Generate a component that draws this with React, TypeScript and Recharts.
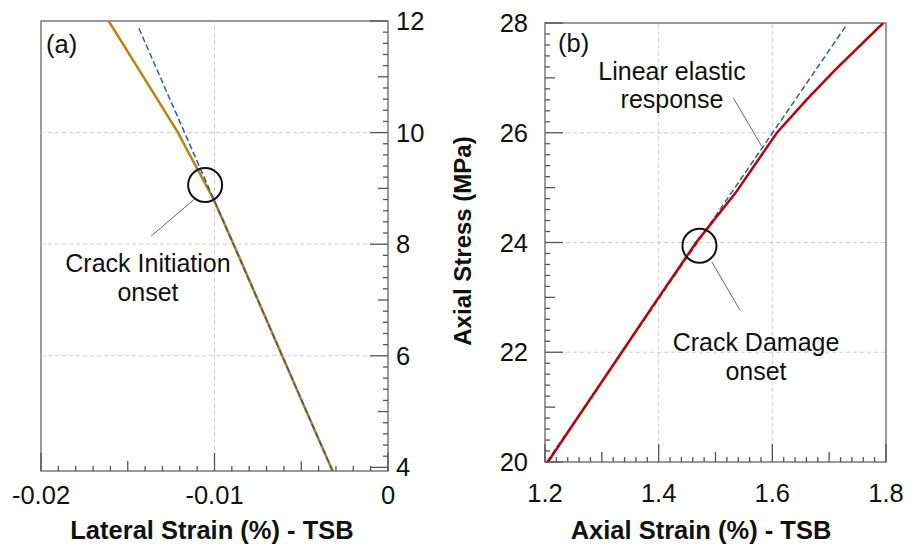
import React from 'react';
import {
  LineChart,
  Line,
  XAxis,
  YAxis,
  ReferenceLine,
  ReferenceArea,
  ReferenceDot,
} from 'recharts';

// ---------------- data ----------------
// Panel (a): lateral strain vs axial stress
const lateralStrainTSB = [-0.0032, -0.0047, -0.0061, -0.0075, -0.0089, -0.01005, -0.0109, -0.0116, -0.0121, -0.0145, -0.0161];
const lateralStress = [3.94, 5.0, 6.0, 7.0, 8.0, 8.8, 9.3, 9.7, 10.0, 11.2, 12.0];
const lateralElasticStrain = [-0.0032, -0.0144];
const lateralElasticStress = [3.94, 11.9];

// Panel (b): axial strain vs axial stress
const axialStrainTSB = [1.205, 1.335, 1.4, 1.466, 1.535, 1.608, 1.66, 1.711, 1.795];
const axialStress = [20.0, 22.0, 23.0, 24.0, 24.9, 26.0, 26.6, 27.15, 28.0];
const axialElasticStrain = [1.203, 1.731];
const axialElasticStress = [20.0, 27.97];

// tick labels
const lateralTickLabels = [-0.02, -0.01, 0];
const leftStressTickLabels = [4, 6, 8, 10, 12];
const axialTickLabels = [1.2, 1.4, 1.6, 1.8];
const rightStressTickLabels = [20, 22, 24, 26, 28];

// gridlines
const leftGridX = [-0.01];
const leftGridY = [6, 8, 10];
const rightGridX = [1.4, 1.6];
const rightGridY = [22, 24, 26];

// ---------------- helpers ----------------
const FONT = "'Liberation Sans', Arial, Helvetica, sans-serif";
const TICK_COLOR = '#555';
const BOX_COLOR = '#7a7a7a';
const GRID_COLOR = '#cfcfcf';

const zip = (xs: number[], ys: number[]) => xs.map((x, i) => ({ x, y: ys[i] }));

const goldData = zip(lateralStrainTSB, lateralStress);
const blueLeftData = zip(lateralElasticStrain, lateralElasticStress);
const redData = zip(axialStrainTSB, axialStress);
const blueRightData = zip(axialElasticStrain, axialElasticStress);

const makeTicks = (start: number, end: number, step: number) => {
  const n = Math.round((end - start) / step);
  return Array.from({ length: n + 1 }, (_, i) => +(start + i * step).toFixed(5));
};

const labelFor = (labels: number[], v: number) => {
  const m = labels.find((l) => Math.abs(l - v) < 1e-9);
  return m === undefined ? null : String(m);
};

const tickLen = (v: number, step: number) => {
  const k = Math.round(v / step);
  if (k % 10 === 0) return 18;
  if (k % 5 === 0) return 10;
  return 5;
};

const TICK_FONT = 25.5;

const makeBottomTick = (step: number, labels: number[], dy: number) => (props: any) => {
  const { x, y, payload } = props;
  const len = tickLen(payload.value, step);
  const lab = labelFor(labels, payload.value);
  return (
    <g>
      <line x1={x} x2={x} y1={y} y2={y - len} stroke={TICK_COLOR} strokeWidth={1.3} />
      {lab !== null && (
        <text x={x} y={y + dy} textAnchor="middle" dominantBaseline="central" fontSize={TICK_FONT} fontFamily={FONT} fill="#111">
          {lab}
        </text>
      )}
    </g>
  );
};

const makeRightTick = (step: number, labels: number[]) => (props: any) => {
  const { x, y, payload } = props;
  const len = tickLen(payload.value, step);
  const lab = labelFor(labels, payload.value);
  return (
    <g>
      <line x1={x} x2={x - len} y1={y} y2={y} stroke={TICK_COLOR} strokeWidth={1.3} />
      {lab !== null && (
        <text x={x + 8} y={y} textAnchor="start" dominantBaseline="central" fontSize={TICK_FONT} fontFamily={FONT} fill="#111">
          {lab}
        </text>
      )}
    </g>
  );
};

const makeLeftTick = (step: number, labels: number[]) => (props: any) => {
  const { x, y, payload } = props;
  const len = tickLen(payload.value, step);
  const lab = labelFor(labels, payload.value);
  return (
    <g>
      <line x1={x} x2={x + len} y1={y} y2={y} stroke={TICK_COLOR} strokeWidth={1.3} />
      {lab !== null && (
        <text x={x - 17} y={y} textAnchor="end" dominantBaseline="central" fontSize={TICK_FONT} fontFamily={FONT} fill="#111">
          {lab}
        </text>
      )}
    </g>
  );
};

const LEFT_X_DOMAIN: [number, number] = [-0.02, 0];
const LEFT_Y_DOMAIN: [number, number] = [3.935, 12];
const RIGHT_X_DOMAIN: [number, number] = [1.2, 1.8];
const RIGHT_Y_DOMAIN: [number, number] = [20, 28];

const leftXTicks = makeTicks(-0.02, 0, 0.001);
const leftYTicks = makeTicks(4, 12, 0.2);
const rightXTicks = makeTicks(1.2, 1.8, 0.02);
const rightYTicks = makeTicks(20, 28, 0.2);

const textStyle = { fontFamily: FONT, fill: '#111' } as const;
const ANN_FONT = 25;

export default function App() {
  return (
    <div style={{ position: 'absolute', left: 0, top: 0, width: 915, height: 544, background: '#fff' }}>
      {/* Panel (a) */}
      <div style={{ position: 'absolute', left: 0, top: 0 }}>
        <LineChart width={460} height={544} margin={{ top: 21, right: 0, bottom: 0, left: 41 }}>
          <XAxis
            type="number"
            dataKey="x"
            domain={LEFT_X_DOMAIN}
            allowDataOverflow
            ticks={leftXTicks}
            interval={0}
            height={73}
            tickSize={0}
            tickMargin={0}
            axisLine={false}
            tickLine={false}
            tick={makeBottomTick(0.001, lateralTickLabels, 24)}
          />
          <YAxis
            type="number"
            dataKey="y"
            orientation="right"
            domain={LEFT_Y_DOMAIN}
            allowDataOverflow
            ticks={leftYTicks}
            interval={0}
            width={72}
            tickSize={0}
            tickMargin={0}
            axisLine={false}
            tickLine={false}
            tick={makeRightTick(0.2, leftStressTickLabels)}
          />
          {leftGridY.map((v) => (
            <ReferenceLine key={'gy' + v} y={v} stroke={GRID_COLOR} strokeDasharray="4 3" strokeWidth={1} />
          ))}
          {leftGridX.map((v) => (
            <ReferenceLine key={'gx' + v} x={v} stroke={GRID_COLOR} strokeDasharray="4 3" strokeWidth={1} />
          ))}
          <ReferenceArea x1={-0.02} x2={0} y1={3.935} y2={12} fill="none" fillOpacity={0} stroke={BOX_COLOR} strokeWidth={1.5} />
          <Line data={goldData} dataKey="y" type="linear" dot={false} stroke="#B8860B" strokeWidth={2.5} isAnimationActive={false} />
          <Line data={blueLeftData} dataKey="y" type="linear" dot={false} stroke="#2E5BA8" strokeWidth={1.5} strokeDasharray="6 3" isAnimationActive={false} />
          <ReferenceDot x={-0.01054} y={9.06} r={17} fill="none" stroke="#111" strokeWidth={2} />
          <ReferenceLine segment={[{ x: -0.01116, y: 8.805 }, { x: -0.01365, y: 8.147 }]} stroke="#666" strokeWidth={1} />
        </LineChart>
      </div>

      {/* Panel (b) */}
      <div style={{ position: 'absolute', left: 460, top: 0 }}>
        <LineChart width={455} height={544} margin={{ top: 23, right: 29, bottom: 0, left: 0 }}>
          <XAxis
            type="number"
            dataKey="x"
            domain={RIGHT_X_DOMAIN}
            allowDataOverflow
            ticks={rightXTicks}
            interval={0}
            height={82}
            tickSize={0}
            tickMargin={0}
            axisLine={false}
            tickLine={false}
            tick={makeBottomTick(0.02, axialTickLabels, 31)}
          />
          <YAxis
            type="number"
            dataKey="y"
            orientation="left"
            domain={RIGHT_Y_DOMAIN}
            allowDataOverflow
            ticks={rightYTicks}
            interval={0}
            width={85}
            tickSize={0}
            tickMargin={0}
            axisLine={false}
            tickLine={false}
            tick={makeLeftTick(0.2, rightStressTickLabels)}
          />
          {rightGridY.map((v) => (
            <ReferenceLine key={'gy' + v} y={v} stroke={GRID_COLOR} strokeDasharray="4 3" strokeWidth={1} />
          ))}
          {rightGridX.map((v) => (
            <ReferenceLine key={'gx' + v} x={v} stroke={GRID_COLOR} strokeDasharray="4 3" strokeWidth={1} />
          ))}
          <ReferenceArea x1={1.2} x2={1.8} y1={20} y2={28} fill="none" fillOpacity={0} stroke={BOX_COLOR} strokeWidth={1.5} />
          <Line data={blueRightData} dataKey="y" type="linear" dot={false} stroke="#2E5BA8" strokeWidth={1.5} strokeDasharray="6 3" isAnimationActive={false} />
          <Line data={redData} dataKey="y" type="linear" dot={false} stroke="#C00000" strokeWidth={2.5} isAnimationActive={false} />
          <ReferenceDot x={1.4718} y={23.94} r={17} fill="none" stroke="#111" strokeWidth={2} />
          <ReferenceLine segment={[{ x: 1.5316, y: 26.63 }, { x: 1.5817, y: 25.748 }]} stroke="#666" strokeWidth={1} />
          <ReferenceLine segment={[{ x: 1.4936, y: 23.644 }, { x: 1.5434, y: 22.763 }]} stroke="#666" strokeWidth={1} />
        </LineChart>
      </div>

      {/* Text overlay */}
      <svg width={915} height={544} style={{ position: 'absolute', left: 0, top: 0, pointerEvents: 'none' }}>
        <text x={46} y={44} fontSize={25.5} dominantBaseline="central" {...textStyle}>(a)</text>
        <text x={148} y={263} fontSize={ANN_FONT} textAnchor="middle" dominantBaseline="central" {...textStyle}>Crack Initiation</text>
        <text x={148} y={292} fontSize={ANN_FONT} textAnchor="middle" dominantBaseline="central" {...textStyle}>onset</text>

        <text x={558} y={43} fontSize={25.5} dominantBaseline="central" {...textStyle}>(b)</text>
        <text x={672} y={71} fontSize={ANN_FONT} textAnchor="middle" dominantBaseline="central" {...textStyle}>Linear elastic</text>
        <text x={672} y={99} fontSize={ANN_FONT} textAnchor="middle" dominantBaseline="central" {...textStyle}>response</text>
        <text x={756} y={342} fontSize={ANN_FONT} textAnchor="middle" dominantBaseline="central" {...textStyle}>Crack Damage</text>
        <text x={756} y={371} fontSize={ANN_FONT} textAnchor="middle" dominantBaseline="central" {...textStyle}>onset</text>

        <text x={212} y={530} fontSize={25.5} fontWeight="bold" textAnchor="middle" dominantBaseline="central" {...textStyle}>Lateral Strain (%) - TSB</text>
        <text x={701} y={530} fontSize={25.5} fontWeight="bold" textAnchor="middle" dominantBaseline="central" {...textStyle}>Axial Strain (%) - TSB</text>
        <text
          x={462}
          y={241}
          fontSize={24}
          fontWeight="bold"
          textAnchor="middle"
          dominantBaseline="central"
          transform="rotate(-90 462 241)"
          {...textStyle}
        >
          Axial Stress (MPa)
        </text>
      </svg>
    </div>
  );
}
